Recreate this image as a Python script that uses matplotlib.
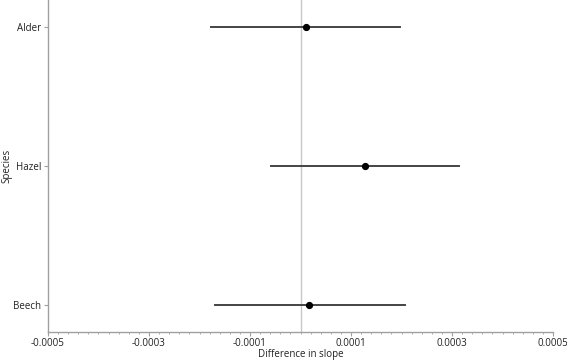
import matplotlib
matplotlib.use("Agg")
import matplotlib.pyplot as plt
from matplotlib.ticker import MultipleLocator

species = ["Beech", "Hazel", "Alder"]
estimate = [0.0000174, 0.000128, 0.0000109]
lower = [-0.000169, -0.000059, -0.000177]
upper = [0.000206, 0.000314, 0.000197]
xticks = [-0.0005, -0.0003, -0.0001, 0.0001, 0.0003, 0.0005]
xticklabels = ["-0.0005", "-0.0003", "-0.0001", "0.0001", "0.0003", "0.0005"]

plt.rcParams['font.family'] = ['Open Sans', 'DejaVu Sans']

fig = plt.figure(figsize=(5.67, 3.64), dpi=100)
ax = fig.add_axes([48/567, 32/364, (553-48)/567, 332/364])

ax.axvline(0, color="#c8c8c8", lw=1, zorder=1)
ypos = list(range(len(species)))
for y, e, lo, hi in zip(ypos, estimate, lower, upper):
    ax.plot([lo, hi], [y, y], color="#444444", lw=1.4, zorder=2)
ax.plot(estimate, ypos, "o", color="black", ms=4.2, zorder=3)

ax.set_xlim(-0.0005, 0.0005)
ax.set_ylim(-0.195, 2.195)
ax.set_xticks(xticks)
ax.set_xticklabels(xticklabels, fontsize=7, color="#222222")
ax.xaxis.set_minor_locator(MultipleLocator(0.00002))
ax.set_yticks(ypos)
ax.set_yticklabels(species, fontsize=7, color="#222222")

for s in ["top", "right"]:
    ax.spines[s].set_visible(False)
for s in ["left", "bottom"]:
    ax.spines[s].set_color("#a0a0a0")
    ax.spines[s].set_linewidth(1)
ax.tick_params(axis="both", which="major", length=3, color="#a0a0a0", width=0.8, pad=2)
ax.tick_params(axis="x", which="major", pad=1.5)
ax.tick_params(axis="x", which="minor", length=1.5, color="#a0a0a0", width=0.6)
ax.tick_params(axis="y", which="minor", left=False)

ax.set_xlabel("Difference in slope", fontsize=7, color="#222222")
ax.set_ylabel("Species", fontsize=7, color="#222222")
ax.xaxis.set_label_coords(0.5, -17/332)
ax.yaxis.set_label_coords(-36/505, 0.5)

fig.savefig("out.png", dpi=100)
